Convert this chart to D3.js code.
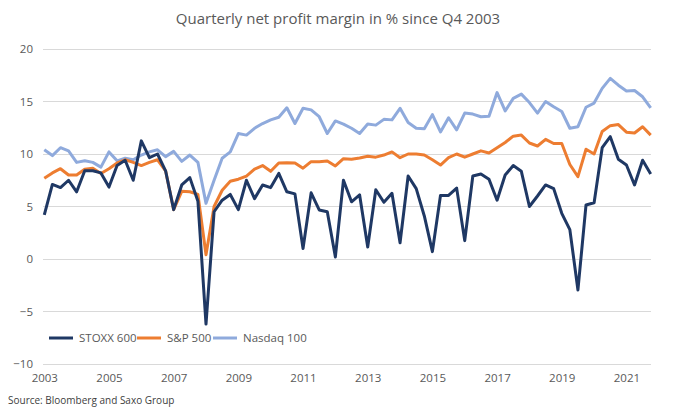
<!DOCTYPE html>
<html><head><meta charset="utf-8">
<script src="https://cdn.jsdelivr.net/npm/d3@7"></script>
<style>body{margin:0;background:#fff}svg{display:block}text{font-family:"Open Sans",sans-serif}</style>
</head><body><svg id="c" width="675" height="418"></svg>
<script>
const title = "Quarterly net profit margin in % since Q4 2003";
const source = "Source: Bloomberg and Saxo Group";
const yTicks = [-10, -5, 0, 5, 10, 15, 20];
const xLabels = ["2003","2005","2007","2009","2011","2013","2015","2017","2019","2021"];
const xLabelIndex = [0, 8, 16, 24, 32, 40, 48, 56, 64, 72];
const seriesNames = ["STOXX 600", "S&P 500", "Nasdaq 100"];
const seriesColors = ["#1F3864", "#ED7D31", "#8FAADC"];
const stoxx = [4.2,7.1,6.8,7.5,6.4,8.4,8.4,8.2,6.85,8.9,9.4,7.5,11.25,9.65,10.0,8.4,4.7,7.05,7.75,5.5,-6.2,4.5,5.6,6.15,4.7,7.5,5.75,7.05,6.8,8.15,6.4,6.2,1.0,6.3,4.67,4.5,0.2,7.5,5.45,6.1,1.15,6.6,5.4,6.26,1.55,7.9,6.7,4.1,0.7,6.05,6.05,6.75,1.75,7.9,8.1,7.6,5.6,8.0,8.9,8.35,5.0,6.0,7.05,6.7,4.35,2.8,-2.95,5.15,5.35,10.6,11.65,9.5,8.95,7.05,9.4,8.1];
const sp500 = [7.7,8.2,8.6,8.0,8.0,8.55,8.65,8.15,8.6,9.15,9.45,9.2,8.9,9.2,9.45,8.4,4.7,6.45,6.4,6.15,0.4,5.0,6.55,7.4,7.6,7.9,8.55,8.9,8.35,9.15,9.17,9.15,8.65,9.27,9.27,9.33,8.86,9.55,9.5,9.62,9.78,9.7,9.9,10.2,9.65,10.0,10.0,9.9,9.45,8.95,9.65,10.0,9.7,10.0,10.3,10.1,10.6,11.1,11.7,11.8,11.05,10.76,11.4,11.0,11.0,9.0,7.84,10.45,10.0,12.15,12.7,12.8,12.08,12.0,12.6,11.8];
const nasdaq = [10.4,9.85,10.6,10.3,9.2,9.35,9.2,8.75,10.2,9.35,9.6,9.45,9.9,10.2,10.4,9.75,10.25,9.3,9.9,9.2,5.3,7.5,9.6,10.2,11.95,11.8,12.45,12.9,13.25,13.5,14.4,12.9,14.35,14.2,13.55,11.95,13.15,12.85,12.45,11.95,12.85,12.75,13.3,13.25,14.35,13.0,12.45,12.4,13.75,12.1,13.45,12.3,13.9,13.8,13.55,13.6,15.85,14.1,15.3,15.7,14.9,13.9,15.0,14.5,14.05,12.45,12.6,14.45,14.85,16.25,17.2,16.55,16.0,16.05,15.45,14.4];
const allSeries = [stoxx, sp500, nasdaq];

const svg = d3.select("#c");
const x = d3.scaleLinear().domain([0, stoxx.length - 1]).range([44.3, 650.7]);
const y = d3.scaleLinear().domain([-10, 20]).range([364, 49]);

svg.append("text").attr("x", 338).attr("y", 24).attr("text-anchor", "middle")
  .attr("font-size", 15).attr("fill", "#595959").text(title);

// gridlines
svg.append("g").selectAll("line").data(yTicks).join("line")
  .attr("x1", x(0) - 1).attr("x2", x(stoxx.length - 1)).attr("y1", d => y(d)).attr("y2", d => y(d))
  .attr("stroke", "#d9d9d9").attr("stroke-width", 1).attr("shape-rendering", "crispEdges");

// y axis labels
const yAxis = d3.axisLeft(y).tickValues(yTicks).tickSize(0).tickPadding(0);
const gy = svg.append("g").attr("transform", "translate(33,0)").call(yAxis);
gy.select(".domain").remove();
gy.selectAll("text").attr("font-size", 11.5).attr("fill", "#595959").attr("font-family", "Open Sans");

// x axis labels
const xAxis = d3.axisBottom(x).tickValues(xLabelIndex).tickFormat((d, i) => xLabels[i]).tickSize(0).tickPadding(0);
const gx = svg.append("g").attr("transform", "translate(0,374)").call(xAxis);
gx.select(".domain").remove();
gx.selectAll("text").attr("font-size", 11.5).attr("fill", "#595959").attr("font-family", "Open Sans");

// lines
const line = d3.line().x((d, i) => x(i)).y(d => y(d));
[2, 1, 0].forEach(k => {
  svg.append("path").datum(allSeries[k]).attr("d", line).attr("fill", "none")
    .attr("stroke", seriesColors[k]).attr("stroke-width", 3).attr("stroke-linejoin", "round");
});

// legend
const legendX = [49, 137, 213];
const lg = svg.append("g");
seriesNames.forEach((n, k) => {
  lg.append("line").attr("x1", legendX[k]).attr("x2", legendX[k] + 24).attr("y1", 338).attr("y2", 338)
    .attr("stroke", seriesColors[k]).attr("stroke-width", 3);
  lg.append("text").attr("x", legendX[k] + 30).attr("y", 342).attr("font-size", 11.5)
    .attr("fill", "#595959").text(n);
});

svg.append("text").attr("x", 8).attr("y", 404).attr("font-size", 10).attr("fill", "#404040")
  .attr("font-family", "Liberation Sans Narrow, Open Sans").text(source);
</script></body></html>
